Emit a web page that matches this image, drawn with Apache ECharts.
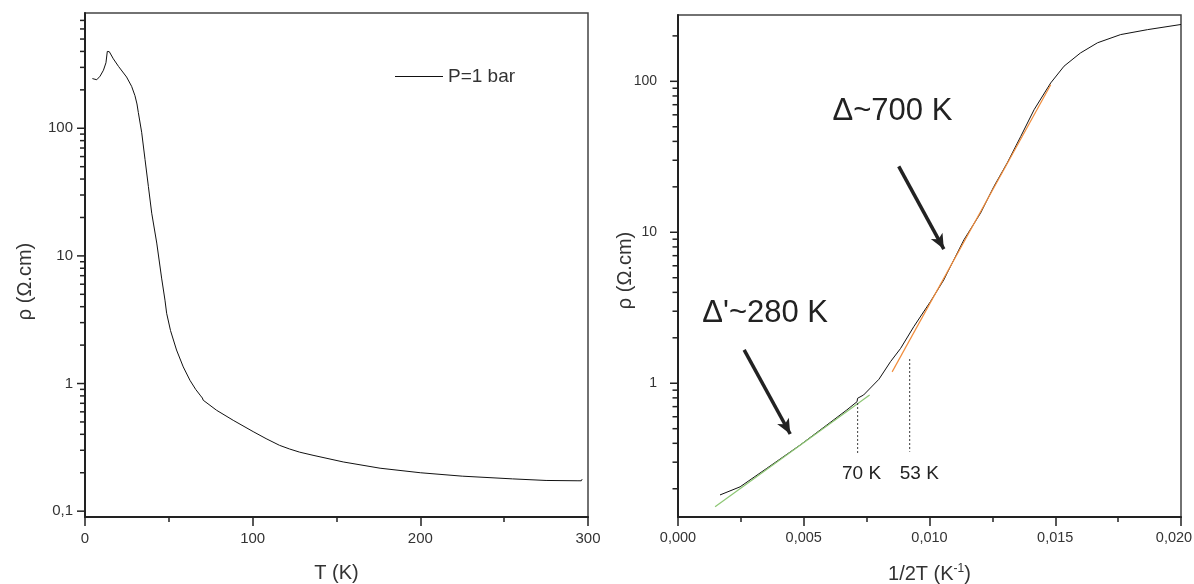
<!DOCTYPE html>
<html><head><meta charset="utf-8">
<script src="https://cdn.jsdelivr.net/npm/echarts@6/dist/echarts.min.js"></script>
<style>html,body{margin:0;padding:0;background:#fff}#c{width:1194px;height:584px}</style>
</head><body><div id="c"></div>
<script>
// ---- Left panel: resistivity vs temperature (P = 1 bar)
const tempK = [4.4, 5.5, 7, 9, 11, 12.5, 13.3, 14.5, 16.9, 20, 24.8, 27.8, 29.8, 31, 31.8, 33.8, 35.8, 37.8, 39.8, 42.8, 45.7, 47.7, 48.7, 51, 54.6, 58.6, 62.6, 66, 69, 70, 70.5, 78.5, 88.4, 100.3, 108, 116, 122, 128, 136, 154, 176, 200, 225, 255, 275, 294, 296, 296.5];
const rhoLeft = [245, 238, 240, 256, 285, 326, 400, 398, 350, 305, 252, 213, 180, 155, 133, 93, 57, 35, 21.6, 12.6, 6.7, 4.5, 3.55, 2.6, 1.83, 1.35, 1.06, 0.9, 0.8, 0.77, 0.74, 0.617, 0.515, 0.42, 0.37, 0.328, 0.307, 0.29, 0.274, 0.243, 0.217, 0.2, 0.188, 0.179, 0.174, 0.173, 0.173, 0.178];

// ---- Right panel: resistivity vs 1/2T
const invTwoT = [0.00167, 0.00168, 0.00247, 0.00353, 0.00486, 0.00592, 0.00671, 0.00712, 0.00714, 0.00738, 0.00799, 0.00845, 0.00885, 0.009375, 0.01004, 0.01057, 0.0107, 0.01137, 0.01203, 0.01256, 0.01309, 0.01363, 0.01416, 0.01482, 0.01535, 0.016, 0.01668, 0.0176, 0.01867, 0.02];
const rhoRight = [0.182, 0.177, 0.206, 0.273, 0.39, 0.529, 0.665, 0.755, 0.795, 0.836, 1.063, 1.39, 1.70, 2.37, 3.48, 4.84, 5.36, 8.92, 13.4, 20.1, 28.8, 43.2, 64.9, 97.6, 126, 154, 180, 204, 220, 238];

// activation fits
const fit700X = [0.008514, 0.01482];
const fit700Y = [1.19, 95];
const fit280X = [0.001474, 0.00762];
const fit280Y = [0.152, 0.836];

// dotted temperature markers
const mark70X = [0.00714, 0.00714];
const mark70Y = [0.737, 0.334];
const mark53X = [0.00921, 0.00921];
const mark53Y = [1.44, 0.352];

// arrows (start, end) in data space
const arrow700 = [[0.008777, 27.3], [0.01057, 7.74]];
const arrow280 = [[0.00263, 1.663], [0.004462, 0.461]];

// annotation anchors
const labelTexts = ['Δ~700 K', "Δ'~280 K", '70 K', '53 K'];
const labelX = [0.008526, 0.003466, 0.0073, 0.009594];
const labelY = [63.0, 2.88, 0.252, 0.252];

// tick values
const leftYMajor = [0.1, 1, 10, 100];
const leftYMinor = [0.2,0.3,0.4,0.5,0.6,0.7,0.8,0.9,2,3,4,5,6,7,8,9,20,30,40,50,60,70,80,90,200,300,400,500,600,700];
const rightYMajor = [1, 10, 100];
const rightYMinor = [0.2,0.3,0.4,0.5,0.6,0.7,0.8,0.9,2,3,4,5,6,7,8,9,20,30,40,50,60,70,80,90,200];

const zip = (a, b) => a.map((v, i) => [v, b[i]]);
const INK = '#222';
const TXT = '#333';
const FONT = 'Arial, "Liberation Sans", Helvetica, sans-serif';

function yTicks(len) {
  return function (params, api) {
    const p = api.coord([api.value(0), api.value(1)]);
    return { type: 'line', silent: true,
      shape: { x1: p[0] - len, y1: p[1], x2: p[0], y2: p[1] },
      style: { stroke: INK, lineWidth: 1.5 } };
  };
}
function tickSeries(xi, vals, len, xmin) {
  return { type: 'custom', xAxisIndex: xi, yAxisIndex: xi, silent: true, clip: false,
    renderItem: yTicks(len), data: vals.map(v => [xmin, v]), z: 5 };
}

const logFmt = v => String(+Number(v).toPrecision(6)).replace('.', ',');

const baseX = {
  type: 'value', splitLine: { show: false },
  axisLine: { show: true, onZero: false, lineStyle: { color: INK, width: 2 } },
  axisTick: { show: true, inside: false, length: 9, lineStyle: { color: INK, width: 1.5 } },
  minorTick: { show: true, splitNumber: 2, length: 5, lineStyle: { color: INK, width: 1.5 } },
  minorSplitLine: { show: false },
  nameLocation: 'middle', nameGap: 46, nameMoveOverlap: false,
  nameTextStyle: { fontSize: 20, color: TXT, fontFamily: FONT }
};
const baseY = {
  type: 'log', logBase: 10, splitLine: { show: false },
  axisLine: { show: true, onZero: false, lineStyle: { color: INK, width: 2 } },
  axisTick: { show: false }, minorTick: { show: false },
  nameLocation: 'middle', nameMoveOverlap: false
};

const option = {
  animation: false,
  backgroundColor: '#fff',
  grid: [
    { left: 85, top: 13, width: 503, height: 504, show: true, borderColor: '#444', borderWidth: 1.5, outerBoundsMode: 'none', containLabel: false },
    { left: 678, top: 15, width: 503, height: 502, show: true, borderColor: '#444', borderWidth: 1.5, outerBoundsMode: 'none', containLabel: false }
  ],
  legend: {
    data: [{ name: 'P=1 bar', icon: 'rect' }], left: 395, top: 67, padding: 0,
    itemWidth: 48, itemHeight: 1.2, selectedMode: false,
    itemStyle: { color: '#111' },
    textStyle: { fontSize: 19, color: TXT, fontFamily: FONT }
  },
  xAxis: [
    Object.assign({}, baseX, { gridIndex: 0, min: 0, max: 300, interval: 100, name: 'T (K)',
      axisLabel: { fontSize: 15, color: TXT, margin: 14, fontFamily: FONT } }),
    Object.assign({}, baseX, { gridIndex: 1, min: 0, max: 0.02, interval: 0.005,
      name: '1/2T (K{sup|-1})',
      nameTextStyle: { fontSize: 20, color: TXT, fontFamily: FONT,
        rich: { sup: { fontSize: 12, color: TXT, fontFamily: FONT, padding: [0, 0, 10, 0] } } },
      axisLabel: { fontSize: 14.5, color: TXT, margin: 13, fontFamily: FONT,
        formatter: v => {
          const s = Number(v).toFixed(3).replace('.', ',');
          return v >= 0.0199 ? '{last|' + s + '}' : s;
        },
        rich: { last: { fontSize: 14.5, color: TXT, fontFamily: FONT, padding: [0, 14, 0, 0] } } } })
  ],
  yAxis: [
    Object.assign({}, baseY, { gridIndex: 0, min: 0.09, max: 800, name: 'ρ (Ω.cm)', nameGap: 50,
      nameTextStyle: { fontSize: 20, color: TXT, fontFamily: FONT, padding: [0, 33, 0, 0] },
      axisLabel: { fontSize: 15, color: TXT, margin: 12, fontFamily: FONT, showMinLabel: false, showMaxLabel: false,
        formatter: logFmt } }),
    Object.assign({}, baseY, { gridIndex: 1, min: 0.13, max: 275, name: 'ρ (Ω.cm)', nameGap: 43,
      nameTextStyle: { fontSize: 20, color: TXT, fontFamily: FONT, padding: [0, 9, 0, 0] },
      axisLabel: { fontSize: 14, color: TXT, margin: 21, fontFamily: FONT, showMinLabel: false, showMaxLabel: false,
        padding: [0, 0, 8, 0], formatter: logFmt } })
  ],
  series: [
    { name: 'P=1 bar', type: 'line', xAxisIndex: 0, yAxisIndex: 0, data: zip(tempK, rhoLeft),
      symbol: 'none', smooth: false, lineStyle: { color: '#111', width: 1 }, itemStyle: { color: '#111' }, z: 3 },
    { name: 'rho2', type: 'line', xAxisIndex: 1, yAxisIndex: 1, data: zip(invTwoT, rhoRight),
      symbol: 'none', lineStyle: { color: '#111', width: 1 }, itemStyle: { color: '#111' }, z: 3,
      markLine: {
        silent: true, symbol: ['none', 'arrow'], symbolSize: [10, 15], animation: false,
        lineStyle: { color: INK, width: 3.5, type: 'solid' }, label: { show: false }, emphasis: { disabled: true },
        data: [
          [{ coord: arrow700[0] }, { coord: arrow700[1] }],
          [{ coord: arrow280[0] }, { coord: arrow280[1] }]
        ]
      },
      markPoint: {
        silent: true, symbol: 'circle', symbolSize: 1, itemStyle: { color: 'rgba(0,0,0,0)' },
        label: { show: true, position: 'inside', formatter: '{b}', color: INK, fontFamily: FONT, fontSize: 19 },
        data: labelTexts.map((t, i) => ({ name: t, coord: [labelX[i], labelY[i]],
          label: { fontSize: i < 2 ? 31 : 19 } }))
      }
    },
    { name: 'fit700', type: 'line', xAxisIndex: 1, yAxisIndex: 1, data: zip(fit700X, fit700Y),
      symbol: 'none', lineStyle: { color: '#f08c3c', width: 1.2 }, z: 4 },
    { name: 'fit280', type: 'line', xAxisIndex: 1, yAxisIndex: 1, data: zip(fit280X, fit280Y),
      symbol: 'none', lineStyle: { color: '#8cc673', width: 1.2 }, z: 4 },
    { name: 'm70', type: 'line', xAxisIndex: 1, yAxisIndex: 1, data: zip(mark70X, mark70Y),
      symbol: 'none', lineStyle: { color: INK, width: 1.2, type: [1.5, 2.5] }, z: 4 },
    { name: 'm53', type: 'line', xAxisIndex: 1, yAxisIndex: 1, data: zip(mark53X, mark53Y),
      symbol: 'none', lineStyle: { color: INK, width: 1.2, type: [1.5, 2.5] }, z: 4 },
    tickSeries(0, leftYMajor, 8, 0),
    tickSeries(0, leftYMinor, 5, 0),
    tickSeries(1, rightYMajor, 8, 0),
    tickSeries(1, rightYMinor, 5.5, 0)
  ]
};
const chart = echarts.init(document.getElementById('c'), null, { renderer: 'canvas' });
chart.setOption(option);
</script>
</body></html>
